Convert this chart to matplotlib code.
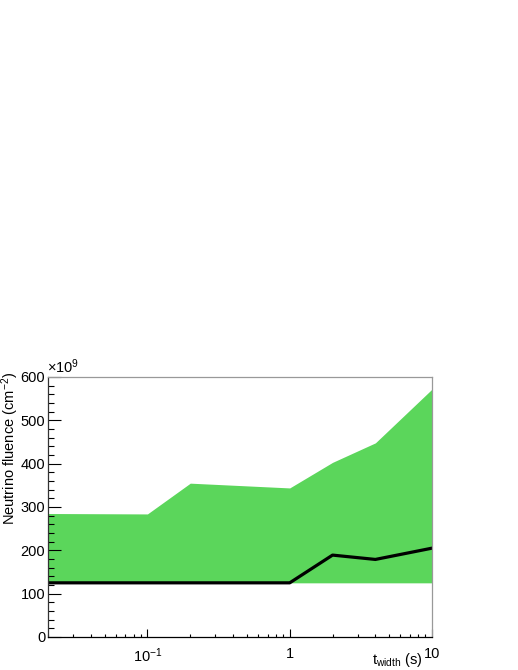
import matplotlib
matplotlib.use("Agg")
import matplotlib.pyplot as plt
from matplotlib.ticker import FixedLocator, LogLocator, NullFormatter, MultipleLocator

plt.rcParams["font.family"] = ["Liberation Sans", "DejaVu Sans"]
plt.rcParams["mathtext.fontset"] = "custom"
plt.rcParams["mathtext.rm"] = "Liberation Sans"
plt.rcParams["mathtext.it"] = "Liberation Sans"

# time widths (s) and fluence (x1e9 cm^-2)
t_width = [0.02, 0.1, 0.2, 1, 2, 4, 10]
band_low = [125, 125, 125, 125, 125, 125, 125]
band_high = [285, 284, 355, 344, 403, 448, 572]
central = [125, 125, 125, 125, 189, 179, 205]

x_ticks = [0.1, 1, 10]
x_ticklabels = ["10$^{-1}$", "1", "10"]


def main():
    fig = plt.figure(figsize=(5.18, 6.70), dpi=100)
    ax = fig.add_axes([48 / 518, 33 / 670, 384 / 518, 260 / 670])

    ax.fill_between(t_width, band_low, band_high, color="#5bd65b", lw=0, zorder=1)
    ax.plot(t_width, central, color="black", lw=2.3, zorder=2)

    ax.set_xscale("log")
    ax.set_xlim(0.02, 10)
    ax.set_ylim(0, 600)

    ax.xaxis.set_major_locator(FixedLocator(x_ticks))
    ax.set_xticklabels(x_ticklabels)
    ax.xaxis.set_minor_locator(LogLocator(base=10, subs=range(2, 10)))
    ax.xaxis.set_minor_formatter(NullFormatter())
    ax.yaxis.set_major_locator(MultipleLocator(100))
    ax.yaxis.set_minor_locator(MultipleLocator(20))

    ax.tick_params(axis="both", which="both", direction="in",
                   top=False, right=False, labelsize=10.5, width=0.8)
    ax.tick_params(axis="y", which="major", length=9, pad=2)
    ax.tick_params(axis="y", which="minor", length=4.5)
    ax.tick_params(axis="x", which="major", length=5.5, pad=7)
    ax.tick_params(axis="x", which="minor", length=2.5)

    for side in ["top", "right"]:
        ax.spines[side].set_color("#999999")
    ax.spines["left"].set_color("#333333")
    ax.spines["bottom"].set_color("black")
    for sp in ax.spines.values():
        sp.set_linewidth(0.9)
        sp.set_zorder(3)

    fig.text(10 / 518, 1 - 372 / 670, "Neutrino fluence (cm$^{-2}$)",
             rotation=90, ha="center", va="top", fontsize=10.5)
    fig.text(423 / 518, 1 - 664 / 670, "t$_{\\mathrm{width}}$ (s)",
             ha="right", va="baseline", fontsize=10.5)
    fig.text(47 / 518, 1 - 373 / 670, "\u00d710$^{9}$",
             ha="left", va="baseline", fontsize=10.5)

    fig.savefig("out.png", dpi=100)


if __name__ == "__main__":
    main()
